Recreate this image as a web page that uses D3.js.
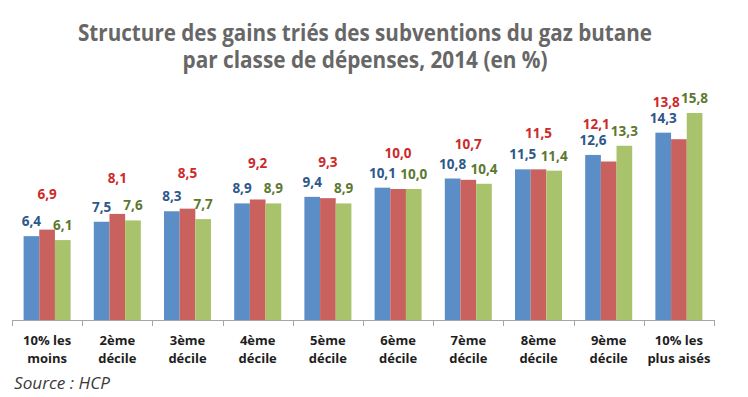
<!DOCTYPE html>
<html lang="fr">
<head>
<meta charset="UTF-8" />
<title>Gaz butane - structure des gains</title>
<script src="https://cdn.jsdelivr.net/npm/d3@7"></script>
<style>
  html, body { margin: 0; padding: 0; background: #fff; }
  svg { display: block; font-family: "Open Sans", "DejaVu Sans", sans-serif; }
</style>
</head>
<body>
<div id="chart"></div>
<script>
// data
const categories = ["10% les\nmoins", "2ème\ndécile", "3ème\ndécile", "4ème\ndécile", "5ème\ndécile",
                    "6ème\ndécile", "7ème\ndécile", "8ème\ndécile", "9ème\ndécile", "10% les\nplus aisés"];
const seriesNames = ["s1", "s2", "s3"];
const blueValues  = [6.4, 7.5, 8.3, 8.9, 9.4, 10.1, 10.8, 11.5, 12.6, 14.3];
const redValues   = [6.9, 8.1, 8.5, 9.2, 9.3, 10.0, 10.7, 11.5, 12.1, 13.8];
const greenValues = [6.1, 7.6, 7.7, 8.9, 8.9, 10.0, 10.4, 11.4, 13.3, 15.8];
const titleLines = ["Structure des gains triés des subventions du gaz butane",
                    "par classe de dépenses, 2014 (en %)"];
const sourceText = "Source : HCP";

const W = 748, H = 397;
const barColors   = { s1: "#5b8dc6", s2: "#c9625e", s3: "#a8c36c" };
const labelColors = { s1: "#2d5889", s2: "#cc2a2a", s3: "#5c7831" };
const labelLift   = { s1: 10, s2: 31, s3: 10 };   // px above bar top (baseline)

const rows = categories.map((c, i) => ({
  cat: c,
  vals: [
    { key: "s1", v: blueValues[i] },
    { key: "s2", v: redValues[i] },
    { key: "s3", v: greenValues[i] }
  ]
}));

const svg = d3.select("#chart").append("svg")
  .attr("width", W).attr("height", H).attr("viewBox", [0, 0, W, H]);

// title
svg.append("g").selectAll("text")
  .data(titleLines)
  .join("text")
    .attr("x", 365)
    .attr("y", (d, i) => 41 + i * 27)
    .attr("text-anchor", "middle")
    .attr("fill", "#676767")
    .attr("font-weight", 700)
    .attr("font-size", 23)
    .attr("textLength", (d, i) => i === 0 ? 574 : 365)
    .attr("lengthAdjust", "spacingAndGlyphs")
    .text(d => d);

// scales
const x0 = d3.scaleBand().domain(categories).range([12, 714]).paddingInner(0).paddingOuter(0);
const x1 = d3.scaleBand().domain(seriesNames).range([0, x0.bandwidth()]).paddingInner(0).paddingOuter(0.74);
const y = d3.scaleLinear().domain([0, 16]).range([320, 110.4]);

// bars
const groups = svg.append("g").selectAll("g")
  .data(rows)
  .join("g")
    .attr("transform", d => `translate(${x0(d.cat)},0)`);

groups.selectAll("rect")
  .data(d => d.vals)
  .join("rect")
    .attr("x", d => x1(d.key))
    .attr("y", d => y(d.v))
    .attr("width", x1.bandwidth())
    .attr("height", d => y(0) - y(d.v))
    .attr("fill", d => barColors[d.key]);

// value labels
const fmt = v => d3.format(".1f")(v).replace(".", ",");
groups.selectAll("text")
  .data(d => d.vals)
  .join("text")
    .attr("class", d => "lbl " + d.key)
    .attr("x", d => x1(d.key) + x1.bandwidth() / 2)
    .attr("y", d => y(d.v) - labelLift[d.key])
    .attr("text-anchor", "middle")
    .attr("font-size", 13.5)
    .attr("font-weight", 700)
    .attr("fill", d => labelColors[d.key])
    .text(d => fmt(d.v));

// keep the red label clear of its neighbours
const hits = (a, b) =>
  Math.min(a.x + a.width, b.x + b.width) - Math.max(a.x, b.x) > 0 &&
  Math.min(a.y + a.height, b.y + b.height) - Math.max(a.y, b.y) > 0;
groups.each(function () {
  const g = d3.select(this);
  const r = g.select("text.s2");
  const bb = g.select("text.s1").node().getBBox();
  const gb = g.select("text.s3").node().getBBox();
  let rb = r.node().getBBox();
  if (hits(rb, gb)) {
    r.attr("x", +r.attr("x") - (rb.x + rb.width - gb.x) - 1);
    rb = r.node().getBBox();
  }
  if (hits(rb, bb)) {
    r.attr("y", +r.attr("y") - (rb.y + rb.height - bb.y) + 2);
  }
});

// axis line with ticks at band edges
const axis = svg.append("g").attr("stroke", "#a6a6a6").attr("stroke-width", 1);
axis.append("line")
  .attr("x1", x0.range()[0]).attr("x2", x0.range()[1])
  .attr("y1", y(0) + 0.5).attr("y2", y(0) + 0.5);
axis.selectAll("line.tick")
  .data(categories.map(c => x0(c)).concat([x0.range()[1]]))
  .join("line")
    .attr("class", "tick")
    .attr("x1", d => Math.round(d) + 0.5).attr("x2", d => Math.round(d) + 0.5)
    .attr("y1", y(0)).attr("y2", y(0) + 6);

// category labels
svg.append("g").selectAll("text")
  .data(categories)
  .join("text")
    .attr("x", d => x0(d) + x0.bandwidth() / 2)
    .attr("y", 345)
    .attr("text-anchor", "middle")
    .attr("font-size", 13)
    .attr("font-weight", 700)
    .attr("fill", "#1e1e1e")
    .selectAll("tspan")
    .data(d => d.split("\n"))
    .join("tspan")
      .attr("x", function () { return d3.select(this.parentNode).attr("x"); })
      .attr("dy", (d, i) => i === 0 ? 0 : 18)
      .text(d => d);

// source
svg.append("text")
  .attr("x", 14)
  .attr("y", 389)
  .attr("font-size", 17)
  .attr("font-style", "italic")
  .attr("fill", "#3a3a3a")
  .attr("textLength", 96)
  .attr("lengthAdjust", "spacingAndGlyphs")
  .text(sourceText);
</script>
</body>
</html>
